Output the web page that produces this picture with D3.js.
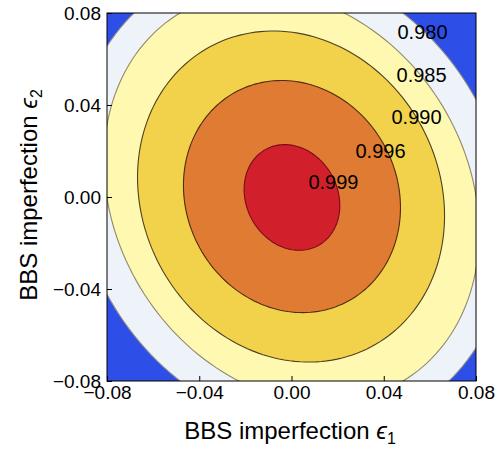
<!DOCTYPE html>
<html>
<head>
<meta charset="utf-8">
<script src="https://cdn.jsdelivr.net/npm/d3@7"></script>
<style>
    body { margin: 0; background: #fff; }
    text { font-family: "Liberation Sans", Arial, sans-serif; }
</style>
</head>
<body>
<div class="chart"></div>
<script>
// Contour levels, outermost first
const LEVELS = ['0.980', '0.985', '0.990', '0.996', '0.999']

// Each contour: centre, semi axes, tilt of the major axis (deg)
const CX    = [0.0000, 0.0000, -0.0002, 0.0002, 0.0002]
const CY    = [0.0000, 0.0000, 0.0002, 0.0002, -0.0002]
const MAJOR = [0.1058, 0.0935, 0.0740, 0.0516, 0.0238]
const MINOR = [0.0905, 0.0765, 0.0643, 0.0458, 0.0198]
const TILT  = [-60, -59, -62, -63, -62]

// Where the level labels sit
const LABEL_X = [0.0568, 0.0564, 0.0542, 0.0386, 0.0182]
const LABEL_Y = [0.0719, 0.0530, 0.0348, 0.0202, 0.0067]

const TICKS = [-0.08, -0.04, 0.00, 0.04, 0.08]

const OUTSIDE = '#2d4fe8'
const FILLS   = ['#eef2f9', '#fff8b0', '#f2d24b', '#df7b32', '#d1202c']
const STROKES = ['#8c8c86', '#8f8a6a', '#4f4020', '#4f2c14', '#7a0a1a']

const svgWidth = 496
const svgHeight = 452
const margin = { top: 13, right: 20, bottom: 71, left: 107 }
const width = svgWidth - margin.left - margin.right
const height = svgHeight - margin.top - margin.bottom

const svg = d3.select('.chart')
    .append('svg')
    .attr('width', svgWidth)
    .attr('height', svgHeight)

const chartGroup = svg.append('g')
    .attr('transform', `translate(${margin.left}, ${margin.top})`)

const xScale = d3.scaleLinear().domain([-0.08, 0.08]).range([0, width])
const yScale = d3.scaleLinear().domain([-0.08, 0.08]).range([height, 0])

svg.append('defs').append('clipPath')
    .attr('id', 'plot-clip')
    .append('rect')
    .attr('width', width)
    .attr('height', height)

const plot = chartGroup.append('g').attr('clip-path', 'url(#plot-clip)')

plot.append('rect')
    .attr('width', width)
    .attr('height', height)
    .attr('fill', OUTSIDE)

// outline of contour i in data space
function ellipse(i) {
    const phi = TILT[i] * Math.PI / 180
    return d3.range(0, 2 * Math.PI, Math.PI / 90).map(t => {
        const u = MAJOR[i] * Math.cos(t)
        const v = MINOR[i] * Math.sin(t)
        return [CX[i] + u * Math.cos(phi) - v * Math.sin(phi),
                CY[i] + u * Math.sin(phi) + v * Math.cos(phi)]
    })
}

const line = d3.line()
    .x(d => xScale(d[0]))
    .y(d => yScale(d[1]))
    .curve(d3.curveLinearClosed)

plot.selectAll('.contour')
    .data(LEVELS)
    .enter()
    .append('path')
    .classed('contour', true)
    .attr('d', (d, i) => line(ellipse(i)))
    .attr('fill', (d, i) => FILLS[i])
    .attr('stroke', (d, i) => STROKES[i])
    .attr('stroke-width', 1.1)

chartGroup.selectAll('.level')
    .data(LEVELS)
    .enter()
    .append('text')
    .classed('level', true)
    .attr('x', (d, i) => xScale(LABEL_X[i]))
    .attr('y', (d, i) => yScale(LABEL_Y[i]))
    .attr('dy', '0.36em')
    .attr('text-anchor', 'middle')
    .attr('font-size', '20px')
    .attr('fill', '#000')
    .text(d => d)

// Axes
const fmt = d3.format('.2f')

const xAxis = chartGroup.append('g')
    .attr('transform', `translate(0, ${height})`)
    .call(d3.axisBottom(xScale).tickValues(TICKS).tickFormat(fmt)
        .tickSizeInner(-5).tickSizeOuter(0).tickPadding(5))

const yAxis = chartGroup.append('g')
    .call(d3.axisLeft(yScale).tickValues(TICKS).tickFormat(fmt)
        .tickSizeInner(-5).tickSizeOuter(0).tickPadding(6))

for (const ax of [xAxis, yAxis]) {
    ax.select('.domain').remove()
    ax.selectAll('line').attr('stroke', '#000')
    ax.selectAll('text')
        .attr('font-family', '"Liberation Sans", Arial, sans-serif')
        .attr('font-size', '19px')
        .attr('fill', '#000')
}

chartGroup.append('rect')
    .attr('width', width)
    .attr('height', height)
    .attr('fill', 'none')
    .attr('stroke', '#000')
    .attr('stroke-width', 1)

// Axis titles
const xTitle = svg.append('text')
    .attr('x', 290)
    .attr('y', 439)
    .attr('text-anchor', 'middle')
    .attr('font-size', '24px')
xTitle.append('tspan').text('BBS imperfection ')
xTitle.append('tspan').attr('font-style', 'italic').text('ϵ')
xTitle.append('tspan').attr('font-size', '16px').attr('dy', '5').text('1')

const yTitle = svg.append('text')
    .attr('transform', 'translate(37, 195) rotate(-90)')
    .attr('text-anchor', 'middle')
    .attr('font-size', '24px')
yTitle.append('tspan').text('BBS imperfection ')
yTitle.append('tspan').attr('font-style', 'italic').text('ϵ')
yTitle.append('tspan').attr('font-size', '16px').attr('dy', '5').text('2')
</script>
</body>
</html>
